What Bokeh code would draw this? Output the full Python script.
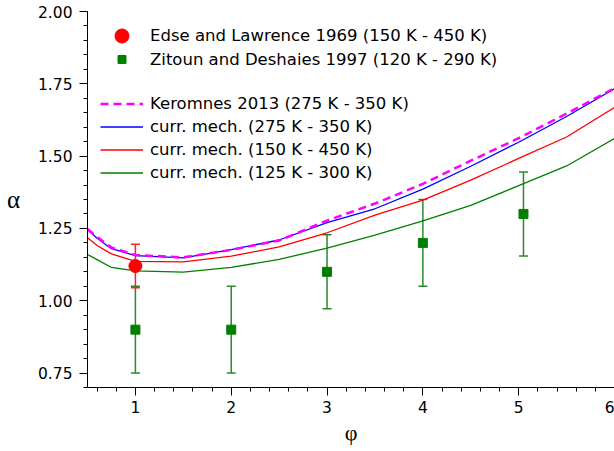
from bokeh.plotting import figure
from bokeh.models import (Range1d, FixedTicker, NumeralTickFormatter, Legend, LegendItem,
                          Whisker, TeeHead, ColumnDataSource)
from bokeh.embed import file_html
from bokeh.resources import INLINE

# ---- data ----
phi_curve = [0.5, 0.6, 0.75, 1.0, 1.5, 2.0, 2.5, 3.0, 3.5, 4.0, 4.5, 5.0, 5.5, 6.0]
keromnes_2013 = [1.248, 1.220, 1.184, 1.158, 1.150, 1.176, 1.208, 1.277, 1.336, 1.404, 1.484, 1.562, 1.647, 1.735]
curr_275_350 = [1.246, 1.216, 1.180, 1.156, 1.148, 1.177, 1.210, 1.270, 1.318, 1.386, 1.465, 1.548, 1.637, 1.733]
curr_150_450 = [1.218, 1.191, 1.162, 1.136, 1.134, 1.154, 1.186, 1.235, 1.296, 1.348, 1.417, 1.492, 1.566, 1.668]
curr_125_300 = [1.160, 1.142, 1.115, 1.103, 1.099, 1.115, 1.143, 1.182, 1.227, 1.276, 1.330, 1.398, 1.466, 1.561]

edse_phi = [1.0]
edse_alpha = [1.12]
edse_err = [0.075]

zitoun_phi = [1.0, 2.0, 3.0, 4.0, 5.05]
zitoun_alpha = [0.90, 0.90, 1.10, 1.20, 1.30]
zitoun_err = [0.15, 0.15, 0.128, 0.15, 0.145]

x_ticks = [1, 2, 3, 4, 5, 6]
x_minor = [round(0.6 + 0.2 * i, 2) for i in range(27)]
y_ticks = [0.75, 1.00, 1.25, 1.50, 1.75, 2.00]
y_minor = [round(0.70 + 0.05 * i, 2) for i in range(27)]

FONT = "DejaVu Sans"

p = figure(width=614, height=451, output_backend="svg", toolbar_location=None,
           x_range=Range1d(0.5, 6.0), y_range=Range1d(0.70, 2.00),
           min_border_left=87, min_border_right=0, min_border_top=11, min_border_bottom=64)
p.outline_line_color = None
p.xgrid.visible = False
p.ygrid.visible = False
p.background_fill_color = "white"
p.border_fill_color = "white"

for ax in (p.xaxis[0], p.yaxis[0]):
    ax.axis_line_color = "black"
    ax.major_tick_line_color = "black"
    ax.minor_tick_line_color = "black"
    ax.major_tick_in = 0
    ax.minor_tick_in = 0
    ax.major_tick_out = 8
    ax.minor_tick_out = 4
    ax.major_label_text_font = FONT
    ax.major_label_text_font_size = "15.5px"
    ax.major_label_text_color = "black"
    ax.axis_label_text_font = "Liberation Serif"
    ax.axis_label_text_font_style = "normal"
    ax.axis_label_text_color = "black"

p.xaxis.ticker = FixedTicker(ticks=x_ticks, minor_ticks=x_minor)
p.yaxis.ticker = FixedTicker(ticks=y_ticks, minor_ticks=y_minor)
p.yaxis.formatter = NumeralTickFormatter(format="0.00")
p.xaxis.major_label_standoff = 5
p.yaxis.major_label_standoff = 7

p.xaxis.axis_label = "φ"
p.xaxis.axis_label_text_font_size = "22px"
p.xaxis.axis_label_standoff = 4

p.yaxis.axis_label = "α"
p.yaxis.axis_label_text_font_size = "25px"
p.yaxis.axis_label_orientation = "horizontal"
p.yaxis.axis_label_standoff = 15

# ---- error bars ----
src_e = ColumnDataSource(dict(x=edse_phi, lo=[a - e for a, e in zip(edse_alpha, edse_err)],
                              hi=[a + e for a, e in zip(edse_alpha, edse_err)]))
src_z = ColumnDataSource(dict(x=zitoun_phi, lo=[a - e for a, e in zip(zitoun_alpha, zitoun_err)],
                              hi=[a + e for a, e in zip(zitoun_alpha, zitoun_err)]))
for src, col in ((src_z, "#2a8a2a"), (src_e, "#ff2020")):
    p.add_layout(Whisker(source=src, base="x", upper="hi", lower="lo",
                         line_color=col, line_width=1.5,
                         upper_head=TeeHead(size=9, line_color=col, line_width=1.5),
                         lower_head=TeeHead(size=9, line_color=col, line_width=1.5)))

# ---- curves ----
r_g = p.line(phi_curve, curr_125_300, line_color="#008000", line_width=1.3)
r_r = p.line(phi_curve, curr_150_450, line_color="#ff0000", line_width=1.3)
r_b = p.line(phi_curve, curr_275_350, line_color="#0000ff", line_width=1.3)
r_k = p.line(phi_curve, keromnes_2013, line_color="#ff00ff", line_width=2.5, line_dash="8 5")

# ---- data points ----
r_z = p.scatter(zitoun_phi, zitoun_alpha, marker="square", size=9, fill_color="#008000",
                line_color="#008000")
r_e = p.scatter(edse_phi, edse_alpha, marker="circle", size=13, fill_color="#ff0000",
                line_color="#ff0000")


def make_legend(items, loc, gh):
    leg = Legend(items=items, location=loc, glyph_width=43, glyph_height=gh, label_height=gh,
                 label_standoff=7, spacing=0, padding=0, margin=0,
                 border_line_alpha=0, background_fill_alpha=0,
                 label_text_font=FONT, label_text_font_size="16.5px", label_text_color="black")
    p.add_layout(leg)


make_legend([LegendItem(label="Edse and Lawrence 1969 (150 K - 450 K)", renderers=[r_e])], (13, 334), 35)
make_legend([LegendItem(label="Zitoun and Deshaies 1997 (120 K - 290 K)", renderers=[r_z])], (13, 318), 20)
make_legend([LegendItem(label="Keromnes 2013 (275 K - 350 K)", renderers=[r_k]),
             LegendItem(label="curr. mech. (275 K - 350 K)", renderers=[r_b]),
             LegendItem(label="curr. mech. (150 K - 450 K)", renderers=[r_r]),
             LegendItem(label="curr. mech. (125 K - 300 K)", renderers=[r_g])], (13, 203), 23)

open("out.html", "w").write(file_html(p, INLINE))
